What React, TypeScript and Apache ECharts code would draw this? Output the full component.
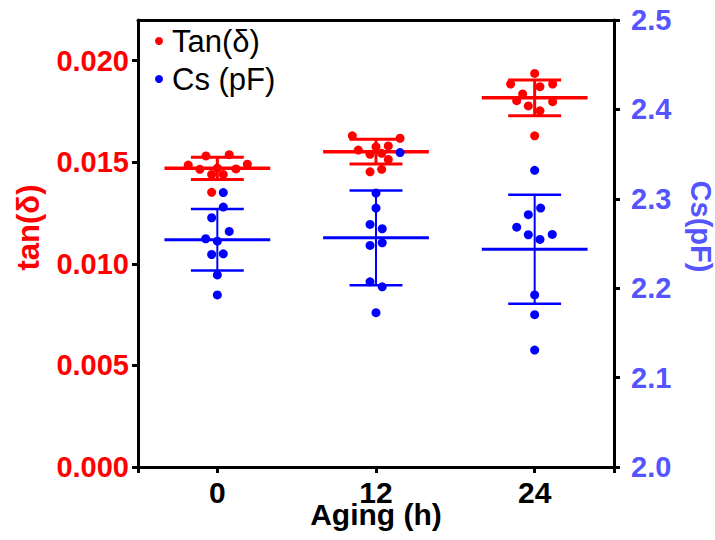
import React, { useEffect, useRef } from "react";
import * as echarts from "echarts";

const hours = [0, 12, 24];
const tickHours = [-6, 0, 12, 24, 30];
const labelHours = [0, 12, 24];
const tanTicks = [0, 0.005, 0.01, 0.015, 0.02];

// mean and SD per aging time
const tanMean = [0.0147, 0.01552, 0.01817];
const tanSD = [0.00055, 0.00061, 0.00088];
const csMean = [2.2541, 2.2564, 2.2436];
const csSD = [0.0344, 0.053, 0.0609];

// individual measurements (value) and horizontal jitter (h)
const tan0 = [0.01531, 0.01537, 0.01486, 0.0149, 0.01465, 0.01467, 0.0144, 0.0144, 0.01352, 0.01471];
const tan0Jitter = [-0.86, 0.9, -2.2, 2.27, -1.32, 1.41, -0.43, 0.45, -0.43, 0];
const tan12 = [0.0163, 0.01618, 0.0156, 0.01576, 0.0158, 0.01539, 0.01544, 0.01514, 0.01453, 0.01465];
const tan12Jitter = [-1.79, 1.82, -1.34, 0, 0.93, -0.45, 0.43, 0.93, -0.45, 0.43];
const tan24 = [0.01937, 0.01885, 0.01872, 0.01885, 0.01836, 0.01803, 0.01798, 0.01777, 0.01753, 0.0163];
const tan24Jitter = [0, -1.82, 0.4, 1.36, -0.91, -1.36, 1.36, -0.48, 0.4, 0];

const cs0 = [2.307, 2.2907, 2.2788, 2.2635, 2.2553, 2.2526, 2.2377, 2.2385, 2.2149, 2.1925];
const cs0Jitter = [0.45, 0.45, -0.43, 0.9, -0.88, 0, -0.43, 0.45, 0, 0];
const cs12 = [2.3064, 2.2896, 2.2713, 2.2665, 2.2478, 2.2508, 2.2071, 2.2015, 2.1726, 2.3517];
const cs12Jitter = [0, 0, -0.45, 0.47, -0.45, 0.47, -0.45, 0.47, 0, 1.82];
const cs24 = [2.3318, 2.2896, 2.2822, 2.2683, 2.2598, 2.2545, 2.2601, 2.1925, 2.1704, 2.1308];
const cs24Jitter = [0, 0.45, -0.48, -1.36, -0.48, 0.4, 1.33, 0, 0, 0];

const RED = "#ff0000";
const BLUE = "#0000ff";
const RIGHT_COLOR = "#5555ff";
const FONT = "'Liberation Sans', Arial, Helvetica, sans-serif";

function buildPoints(groups: number[][], jitters: number[][]) {
  const out: number[][] = [];
  groups.forEach((vals, g) => {
    vals.forEach((v, i) => out.push([hours[g] + jitters[g][i], v]));
  });
  return out;
}

function errorBar(color: string, lw: number, capLw: number, meanLw: number) {
  return (params: any, api: any) => {
    const x = api.value(0);
    const m = api.value(1);
    const sd = api.value(2);
    const meanL = api.coord([x - 4, m]);
    const meanR = api.coord([x + 4, m]);
    const top = api.coord([x, m + sd]);
    const bot = api.coord([x, m - sd]);
    const capTL = api.coord([x - 2, m + sd]);
    const capTR = api.coord([x + 2, m + sd]);
    const capBL = api.coord([x - 2, m - sd]);
    const capBR = api.coord([x + 2, m - sd]);
    const st = (w: number) => ({ stroke: color, lineWidth: w, fill: null });
    return {
      type: "group",
      children: [
        { type: "line", shape: { x1: top[0], y1: top[1], x2: bot[0], y2: bot[1] }, style: st(lw) },
        { type: "line", shape: { x1: capTL[0], y1: capTL[1], x2: capTR[0], y2: capTR[1] }, style: st(capLw) },
        { type: "line", shape: { x1: capBL[0], y1: capBL[1], x2: capBR[0], y2: capBR[1] }, style: st(capLw) },
        { type: "line", shape: { x1: meanL[0], y1: meanL[1], x2: meanR[0], y2: meanR[1] }, style: st(meanLw) },
      ],
    };
  };
}

export default function App() {
  const ref = useRef<HTMLDivElement>(null);
  useEffect(() => {
    if (!ref.current) return;
    const chart = echarts.init(ref.current, undefined, { renderer: "svg", width: 715, height: 540 });
    const tanPoints = buildPoints([tan0, tan12, tan24], [tan0Jitter, tan12Jitter, tan24Jitter]);
    const csPoints = buildPoints([cs0, cs12, cs24], [cs0Jitter, cs12Jitter, cs24Jitter]);
    const tanBars = hours.map((h, i) => [h, tanMean[i], tanSD[i]]);
    const csBars = hours.map((h, i) => [h, csMean[i], csSD[i]]);

    const axisLine = { show: true, onZero: false, lineStyle: { color: "#000", width: 3 } };

    chart.setOption({
      animation: false,
      textStyle: { fontFamily: FONT },
      grid: { left: 138, right: 101, top: 20, bottom: 73, containLabel: false, outerBoundsMode: "none" },
      legend: {
        orient: "vertical",
        left: 150,
        top: 20,
        icon: "circle",
        itemWidth: 16,
        itemHeight: 8,
        itemGap: 6,
        textStyle: { fontSize: 31, color: "#000", fontFamily: FONT, lineHeight: 32 },
        data: [
          { name: "Tan(δ)", itemStyle: { color: RED } },
          { name: "Cs (pF)", itemStyle: { color: BLUE } },
        ],
      },
      xAxis: [
        {
          type: "value",
          min: -6,
          max: 30,
          position: "bottom",
          axisLine: { ...axisLine },
          axisTick: { show: true, customValues: tickHours, length: 6, lineStyle: { color: "#000", width: 3 } },
          axisLabel: {
            customValues: labelHours,
            fontSize: 30,
            fontWeight: "bold",
            color: "#000",
            fontFamily: FONT,
            margin: 10,
          },
          splitLine: { show: false },
          name: "Aging (h)",
          nameLocation: "middle",
          nameGap: 32,
          nameMoveOverlap: false,
          nameTextStyle: { fontSize: 30, fontWeight: "bold", color: "#000", fontFamily: FONT },
        },
        {
          type: "value",
          min: -6,
          max: 30,
          position: "top",
          axisLine: { ...axisLine },
          axisTick: { show: false },
          axisLabel: { show: false },
          splitLine: { show: false },
        },
      ],
      yAxis: [
        {
          type: "value",
          min: 0,
          max: 0.022,
          position: "left",
          axisLine: { ...axisLine },
          axisTick: { show: true, customValues: tanTicks, length: 6, lineStyle: { color: "#000", width: 3 } },
          axisLabel: {
            customValues: tanTicks,
            formatter: (v: number) => v.toFixed(3),
            fontSize: 29,
            fontWeight: "bold",
            color: RED,
            fontFamily: FONT,
            margin: 9,
          },
          splitLine: { show: false },
          name: "tan(δ)",
          nameLocation: "middle",
          nameGap: 94,
          nameMoveOverlap: false,
          nameTextStyle: {
            fontSize: 31,
            fontWeight: "bold",
            color: RED,
            fontFamily: FONT,
            padding: [0, 0, 0, 32],
          },
        },
        {
          type: "value",
          min: 2.0,
          max: 2.5,
          interval: 0.1,
          position: "right",
          axisLine: { ...axisLine },
          axisTick: { show: true, length: 6, lineStyle: { color: "#000", width: 3 } },
          axisLabel: {
            formatter: (v: number) => v.toFixed(1),
            fontSize: 29,
            fontWeight: "bold",
            color: RIGHT_COLOR,
            fontFamily: FONT,
            margin: 17,
          },
          splitLine: { show: false },
          name: "Cs(pF)",
          nameLocation: "middle",
          nameRotate: -90,
          nameGap: 72,
          nameMoveOverlap: false,
          nameTextStyle: {
            fontSize: 29,
            fontWeight: "bold",
            color: RIGHT_COLOR,
            fontFamily: FONT,
            padding: [0, 34, 0, 0],
          },
        },
      ],
      series: [
        {
          type: "custom",
          name: "tanBars",
          xAxisIndex: 0,
          yAxisIndex: 0,
          renderItem: errorBar(RED, 3, 3, 3.5),
          data: tanBars,
          silent: true,
        },
        {
          type: "scatter",
          name: "Tan(δ)",
          xAxisIndex: 0,
          yAxisIndex: 0,
          symbolSize: 9,
          itemStyle: { color: RED, opacity: 1 },
          data: tanPoints,
        },
        {
          type: "custom",
          name: "csBars",
          xAxisIndex: 0,
          yAxisIndex: 1,
          renderItem: errorBar(BLUE, 2, 2.5, 3),
          data: csBars,
          silent: true,
        },
        {
          type: "scatter",
          name: "Cs (pF)",
          xAxisIndex: 0,
          yAxisIndex: 1,
          symbolSize: 9,
          itemStyle: { color: BLUE, opacity: 1 },
          data: csPoints,
        },
      ],
    });
    return () => chart.dispose();
  }, []);
  return <div ref={ref} style={{ width: 715, height: 540, position: "absolute", left: 0, top: 0 }} />;
}
